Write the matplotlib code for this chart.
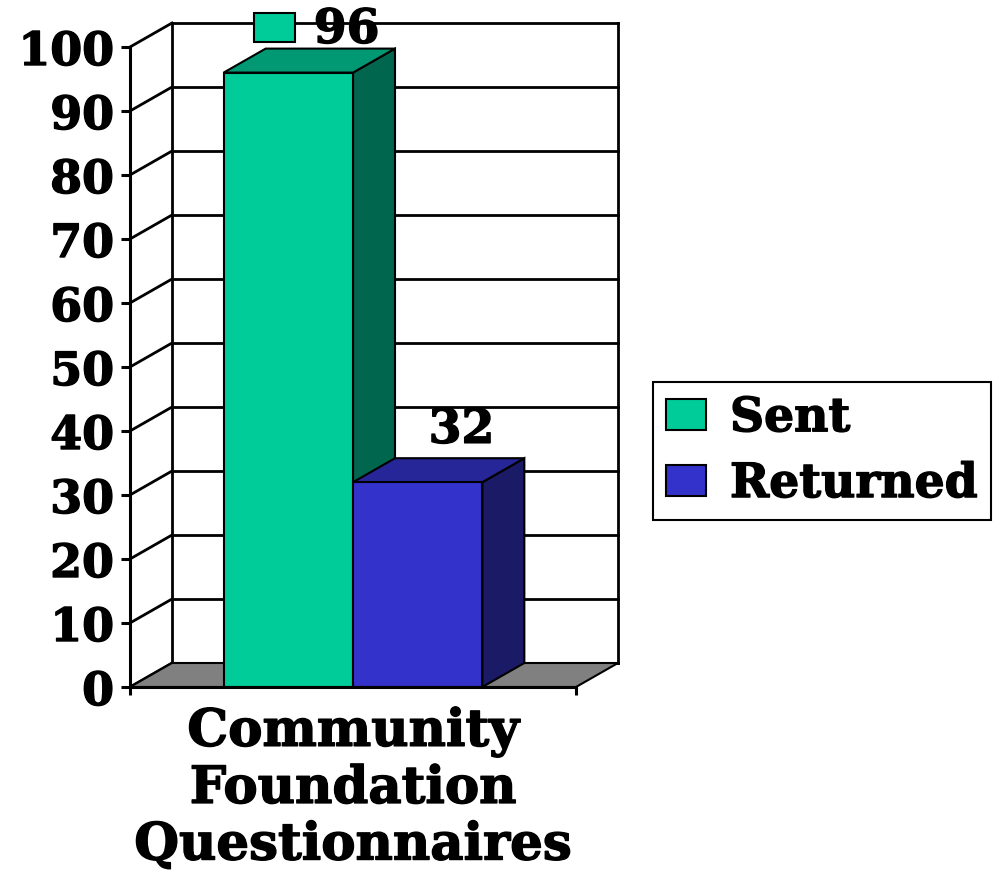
import matplotlib
matplotlib.use("Agg")
import matplotlib.pyplot as plt
import matplotlib.patheffects as pe
from matplotlib.patches import Polygon, Rectangle, Patch

# ---- data ----
category = "Community\nFoundation\nQuestionnaires"
series_names = ["Sent", "Returned"]
series_values = [96, 32]
y_ticks = [0, 10, 20, 30, 40, 50, 60, 70, 80, 90, 100]
y_tick_labels = [str(t) for t in y_ticks]

# ---- style ----
front_colors = ["#00CC99", "#3333CC"]
top_colors = ["#009973", "#262699"]
side_colors = ["#00664D", "#1A1A66"]
floor_color = "#808080"
FONT = "DejaVu Serif"
HEAVY = [pe.withStroke(linewidth=1.0, foreground="black")]

W, H = 994, 879
fig = plt.figure(figsize=(W / 100, H / 100), dpi=100)
ax = fig.add_axes([130 / W, 1 - 688 / H, 446 / W, 640 / H])
ax.set_xlim(0, 1)
ax.set_ylim(0, 100)
ax.patch.set_visible(False)

DX = 42 / 446          # depth offset in x units
DY = 24 / 6.4          # depth offset in value units
LW = 2.0

# back wall and side wall grid
for v in y_ticks:
    ax.plot([DX, 1 + DX], [v + DY, v + DY], color="black", lw=LW, clip_on=False, zorder=1)
    ax.plot([0, DX], [v, v + DY], color="black", lw=LW, clip_on=False, zorder=1)
for xv in (DX, 1 + DX):
    ax.plot([xv, xv], [DY, y_ticks[-1] + DY], color="black", lw=LW, clip_on=False, zorder=1)

# floor
ax.add_patch(Polygon([(0, 0), (1, 0), (1 + DX, DY), (DX, DY)], closed=True,
                     fc=floor_color, ec="black", lw=1.5, clip_on=False, zorder=2))

# bars
bw = 0.29
group_left = 0.5 - bw * len(series_values) / 2
for i, val in enumerate(series_values):
    x0 = group_left + i * bw
    x1 = x0 + bw
    z = 3 + i
    ax.add_patch(Polygon([(x1, 0), (x1 + DX, DY), (x1 + DX, val + DY), (x1, val)], closed=True,
                         fc=side_colors[i], ec="black", lw=1.5, clip_on=False, zorder=z))
    ax.add_patch(Polygon([(x0, val), (x1, val), (x1 + DX, val + DY), (x0 + DX, val + DY)], closed=True,
                         fc=top_colors[i], ec="black", lw=1.5, clip_on=False, zorder=z))
    ax.add_patch(Rectangle((x0, 0), bw, val, fc=front_colors[i], ec="black", lw=1.5,
                           clip_on=False, zorder=z))

# data labels
lab_size = 34
x0 = group_left
v0 = series_values[0]
ax.add_patch(Rectangle((x0 + 0.069, v0 + DY + 1.0), 0.09, 4.6, fc=front_colors[0], ec="black",
                       lw=1.5, clip_on=False, zorder=10))
ax.text(x0 + 0.202, v0 + DY + 0.9, str(v0), ha="left", va="baseline", fontsize=lab_size,
        fontweight="bold", family=FONT, clip_on=False, zorder=10, path_effects=HEAVY)
x1c = group_left + bw * 1.5
v1 = series_values[1]
ax.text(x1c + DX + 0.004, v1 + DY + 2.4, str(v1), ha="center", va="baseline", fontsize=lab_size,
        fontweight="bold", family=FONT, clip_on=False, zorder=10, path_effects=HEAVY)

# axes
for s in ("top", "right"):
    ax.spines[s].set_visible(False)
for s in ("left", "bottom"):
    ax.spines[s].set_linewidth(2.2)
    ax.spines[s].set_zorder(8)
ax.set_yticks(y_ticks)
ax.set_yticklabels(y_tick_labels, fontsize=33, fontweight="bold", family=FONT)
ax.tick_params(axis="y", direction="out", length=6.5, width=2.2, pad=5)
ax.set_xticks([0.5])
ax.set_xticklabels([category], fontsize=37, fontweight="bold", family=FONT, linespacing=1.2)
ax.tick_params(axis="x", which="major", length=0, pad=15)
ax.set_xticks([0, 1], minor=True)
ax.tick_params(axis="x", which="minor", direction="out", length=6, width=2.2)
for t in ax.get_yticklabels() + ax.get_xticklabels():
    t.set_path_effects(HEAVY)

# legend
handles = [Patch(fc=front_colors[i], ec="black", lw=1.5) for i in range(len(series_names))]
leg = fig.legend(handles, series_names, loc="upper left",
                 bbox_to_anchor=(653 / W, 1 - 383 / H), bbox_transform=fig.transFigure,
                 prop={"family": FONT, "weight": "bold", "size": 34},
                 frameon=True, fancybox=False, edgecolor="black", framealpha=1,
                 borderpad=0.28, borderaxespad=0, handlelength=0.85, handleheight=0.62,
                 handletextpad=0.5, labelspacing=0.42)
leg.get_frame().set_linewidth(1.5)
for t in leg.get_texts():
    t.set_path_effects(HEAVY)

fig.savefig("out.png", dpi=100)
